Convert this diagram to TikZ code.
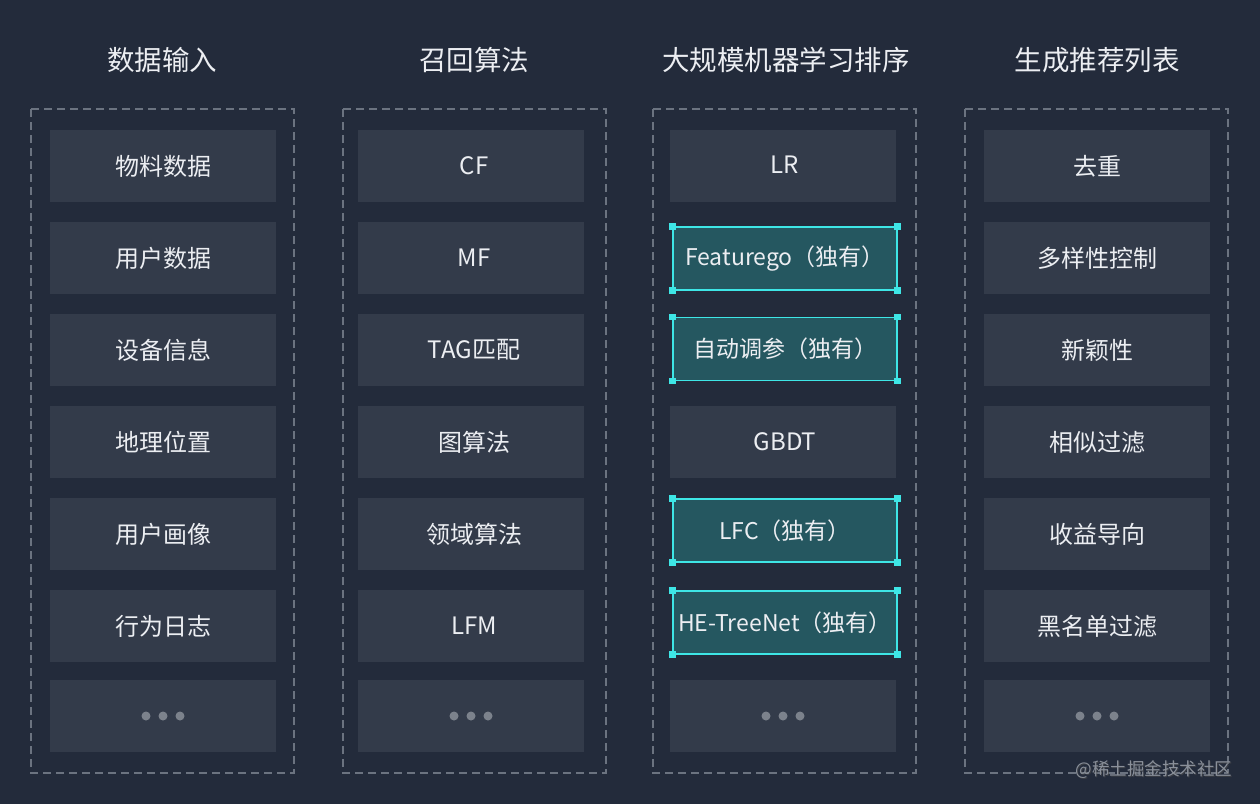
\documentclass[tikz,border=0pt]{standalone}
\usepackage{fontspec}
\setmainfont{Noto Sans CJK SC}
\begin{document}
\begin{tikzpicture}[x=1pt,y=-1pt,
  colbox/.style={draw=dashc, line width=1.5pt, dash pattern=on 8pt off 5pt},
  itembox/.style={fill=boxc, draw=none, minimum width=226pt, minimum height=72pt, inner sep=0pt, text=txtc, font=\fontsize{24}{28}\selectfont},
  hibox/.style={fill=hic, draw=cyanc, line width=1.2pt, minimum width=224pt, minimum height=63pt, inner sep=0pt, text=txtc, font=\fontsize{23}{27}\selectfont},
  title/.style={text=txtc, font=\fontsize{27.5}{32}\selectfont},
  handle/.style={fill=cyanc, draw=none, minimum size=6.5pt, inner sep=0pt},
  dot/.style={circle, fill=dotc, draw=none, minimum size=9pt, inner sep=0pt}]
\definecolor{bgc}{HTML}{232B3B}
\definecolor{boxc}{HTML}{333B4A}
\definecolor{dashc}{HTML}{6B7380}
\definecolor{hic}{HTML}{255760}
\definecolor{cyanc}{HTML}{3EE6E6}
\definecolor{txtc}{HTML}{ECEEF2}
\definecolor{dotc}{HTML}{7C828C}
\definecolor{wmc}{HTML}{8A909A}
\fill[bgc] (0,0) rectangle (1260,804);
\useasboundingbox (0,0) rectangle (1260,804);
% titles
\node[title] (t1) at (162,60) {数据输入};
\node[title] (t2) at (474,60) {召回算法};
\node[title] (t3) at (786,60) {大规模机器学习排序};
\node[title] (t4) at (1097,60) {生成推荐列表};
% dashed columns
\draw[colbox] (31,109) rectangle (294,773);
\draw[colbox] (343,109) rectangle (606,773);
\draw[colbox] (653,109) rectangle (916,773);
\draw[colbox] (965,109) rectangle (1228,773);
% column 1
\node[itembox] (a1) at (163,166) {物料数据};
\node[itembox] (a2) at (163,258) {用户数据};
\node[itembox] (a3) at (163,350) {设备信息};
\node[itembox] (a4) at (163,442) {地理位置};
\node[itembox] (a5) at (163,534) {用户画像};
\node[itembox] (a6) at (163,626) {行为日志};
\node[itembox] (a7) at (163,716) {};
% column 2
\node[itembox] (b1) at (471,166) {\hspace*{6pt}CF};
\node[itembox] (b2) at (471,258) {\hspace*{6pt}MF};
\node[itembox] (b3) at (471,350) {\hspace*{6pt}TAG匹配};
\node[itembox] (b4) at (471,442) {\hspace*{6pt}图算法};
\node[itembox] (b5) at (471,534) {\hspace*{6pt}领域算法};
\node[itembox] (b6) at (471,626) {\hspace*{6pt}LFM};
\node[itembox] (b7) at (471,716) {};
% column 3
\node[itembox] (c1) at (783,166) {\raisebox{3pt}{\hspace*{4pt}LR}};
\node[hibox] (c2) at (785,258.5) {Featurego（独有）};
\node[hibox] (c3) at (785,349) {自动调参（独有）};
\node[itembox] (c4) at (783,442) {\hspace*{4pt}GBDT};
\node[hibox] (c5) at (785,530.5) {LFC（独有）};
\node[hibox] (c6) at (785,622.5) {HE-TreeNet（独有）};
\node[itembox] (c7) at (783,716) {};
% column 4
\node[itembox] (d1) at (1097,166) {去重};
\node[itembox] (d2) at (1097,258) {多样性控制};
\node[itembox] (d3) at (1097,350) {新颖性};
\node[itembox] (d4) at (1097,442) {相似过滤};
\node[itembox] (d5) at (1097,534) {收益导向};
\node[itembox] (d6) at (1097,626) {黑名单过滤};
\node[itembox] (d7) at (1097,716) {};
% handles
\foreach \n in {c2,c3,c5,c6}{
  \foreach \a in {north west,north east,south west,south east}{
    \node[handle] at (\n.\a) {};
  }
}
% dots
\foreach \n in {a7,b7,c7,d7}{
  \node[dot] at ([xshift=-17pt]\n.center) {};
  \node[dot] at (\n.center) {};
  \node[dot] at ([xshift=17pt]\n.center) {};
}
% watermark
\node[text=black!70, opacity=0.6, font=\fontsize{17.5}{20}\selectfont, anchor=east] at (1237,771) {@稀土掘金技术社区};
\node[text=wmc, font=\fontsize{17.5}{20}\selectfont, anchor=east] (wm) at (1236,770) {@稀土掘金技术社区};
\end{tikzpicture}
\end{document}
